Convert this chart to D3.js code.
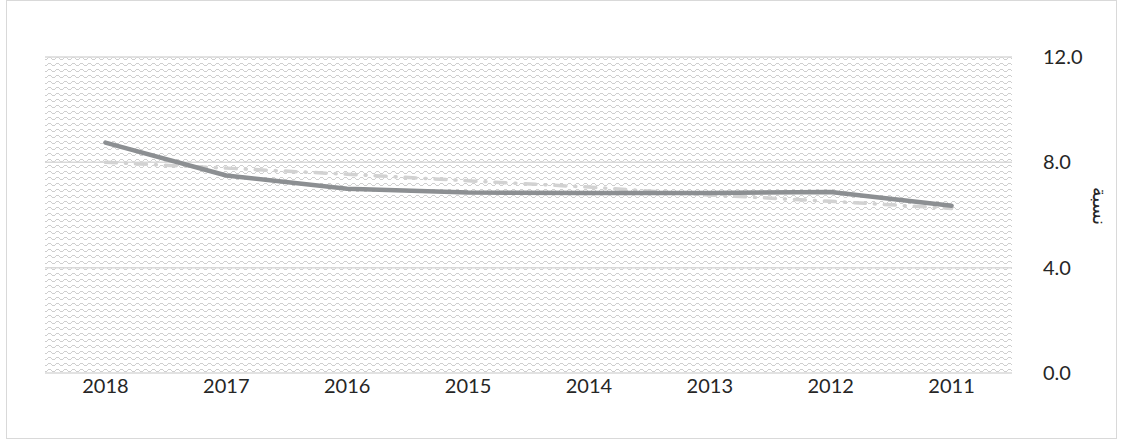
<!DOCTYPE html>
<html><head><meta charset="utf-8">
<script src="https://cdn.jsdelivr.net/npm/d3@7"></script>
<style>body{margin:0;background:#fff}svg{display:block}</style>
</head><body>
<svg id="c" width="1124" height="442"></svg>
<script>
const years = ["2018","2017","2016","2015","2014","2013","2012","2011"];
const seriesSolid = [8.75, 7.5, 7.0, 6.85, 6.84, 6.84, 6.87, 6.35];
const seriesDash = [8.0, 7.78, 7.55, 7.3, 7.06, 6.76, 6.52, 6.25];
const yTicks = [0, 4, 8, 12];
const yTitle = "نسبة";

const svg = d3.select("#c");
const m = {left: 45, right: 1012, top: 57, bottom: 373};

svg.append("rect").attr("x", 6.5).attr("y", 0.5).attr("width", 1110).attr("height", 438)
  .attr("fill", "#fff").attr("stroke", "#d9d9d9").attr("stroke-width", 1);

const defs = svg.append("defs");
const pat = defs.append("pattern").attr("id", "wave").attr("patternUnits", "userSpaceOnUse")
  .attr("x", 45).attr("y", 57).attr("width", 8).attr("height", 6);
pat.append("rect").attr("width", 8).attr("height", 6).attr("fill", "#fff");
const px = [[0,2],[1,2],[2,1],[3,0],[4,0],[5,0],[6,1],[7,2]];
px.forEach(p => pat.append("rect").attr("x", p[0]).attr("y", p[1]).attr("width", 1).attr("height", 1).attr("fill", "#cfcfcf"));

const x = d3.scaleBand().domain(years).range([m.left, m.right]);
const y = d3.scaleLinear().domain([0, 12]).range([m.bottom, m.top]);

svg.append("rect").attr("x", m.left).attr("y", m.top).attr("width", m.right - m.left)
  .attr("height", m.bottom - m.top).attr("fill", "url(#wave)");

svg.append("g").selectAll("line").data(yTicks).join("line")
  .attr("x1", m.left).attr("x2", m.right)
  .attr("y1", d => y(d)).attr("y2", d => y(d))
  .attr("stroke", "#d9d9d9").attr("stroke-width", 1.5);

const font = "Lato, 'Open Sans', sans-serif";
const yAxis = d3.axisRight(y).tickValues(yTicks).tickFormat(d3.format(".1f")).tickSize(0).tickPadding(0);
const gy = svg.append("g").attr("transform", `translate(${m.right + 31},0)`).call(yAxis);
gy.select(".domain").remove();
gy.selectAll("text").attr("font-family", font).attr("font-size", 20).attr("fill", "#262626");

const xAxis = d3.axisBottom(x).tickSize(0).tickPadding(0);
const gx = svg.append("g").attr("transform", `translate(0,${m.bottom + 3})`).call(xAxis);
gx.select(".domain").remove();
gx.selectAll("text").attr("font-family", font).attr("font-size", 20).attr("fill", "#262626").attr("dy", "0.85em");

svg.append("text").attr("transform", `translate(1100,206) rotate(90)`)
  .attr("text-anchor", "middle").attr("dominant-baseline", "central")
  .attr("font-family", "'DejaVu Sans', sans-serif").attr("font-size", 19).attr("fill", "#262626")
  .text(yTitle);

const line = d3.line().x((d, i) => x(years[i]) + x.bandwidth() / 2).y(d => y(d));

svg.append("path").datum(seriesDash).attr("d", line).attr("fill", "none")
  .attr("stroke", "#d2d2d2").attr("stroke-width", 3.5).attr("stroke-linecap", "round")
  .attr("stroke-dasharray", "11 9 1 9");

svg.append("path").datum(seriesSolid).attr("d", line).attr("fill", "none")
  .attr("stroke", "#8c8f92").attr("stroke-width", 4.5).attr("stroke-linecap", "round").attr("stroke-linejoin", "round");
</script>
</body></html>
